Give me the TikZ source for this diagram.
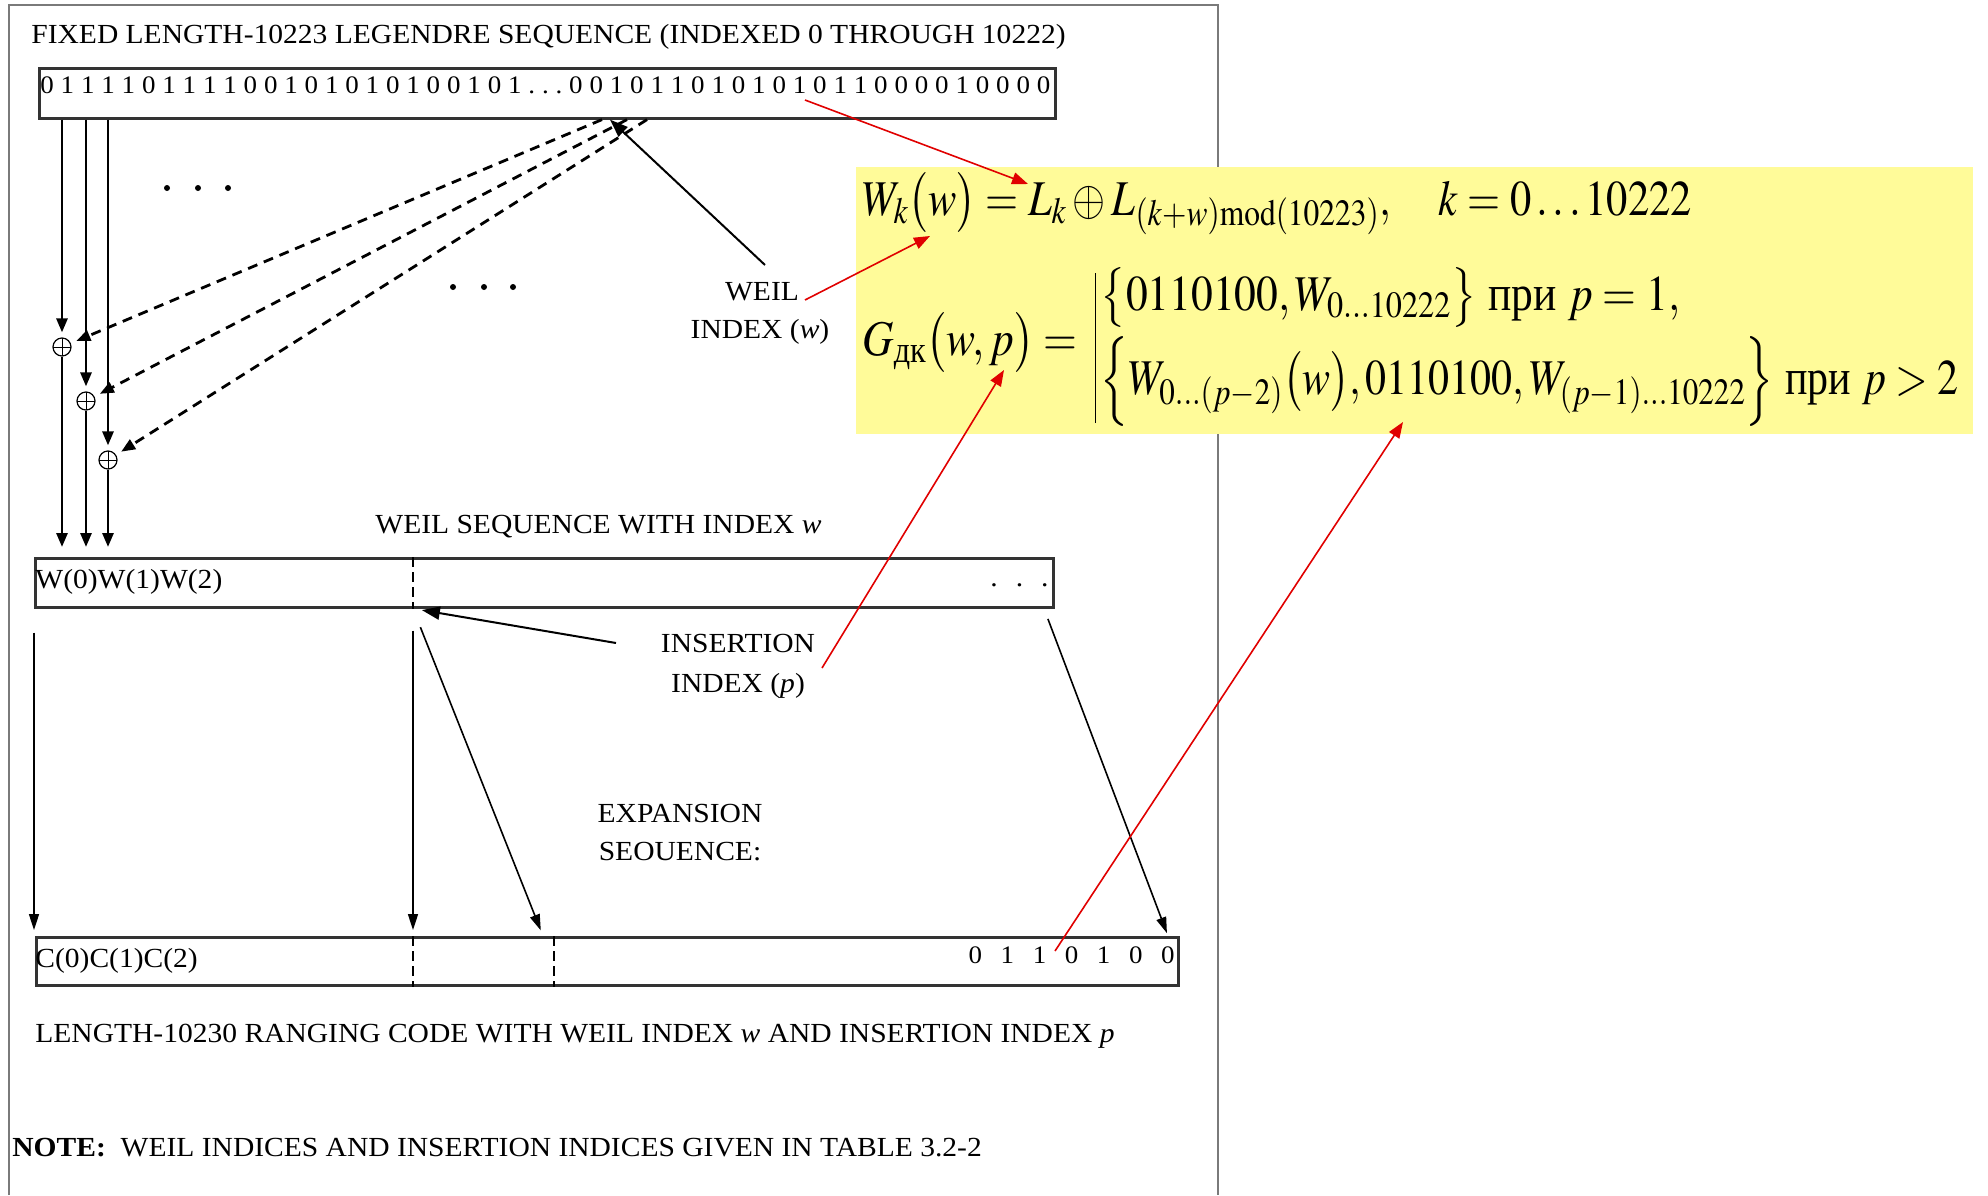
\documentclass[tikz,border=0pt]{standalone}
\usepackage{amsmath}
\usepackage{mathptmx}
\usepackage[no-math]{fontspec}
\setmainfont{Liberation Serif}[FakeStretch=1.07]
\newfontfamily\plainserif{Liberation Serif}
\usetikzlibrary{arrows.meta,calc,positioning}
\definecolor{Frame}{HTML}{7A7A7A}
\definecolor{BoxLine}{HTML}{333333}
\definecolor{Marker}{HTML}{FFFB99}
\definecolor{RedLine}{HTML}{E00000}
\newcommand{\txtsize}{\fontsize{13.8}{17}\selectfont}
\newcommand{\bitsize}{\fontsize{12.6}{15}\selectfont}
\newcommand{\eqsize}{\fontsize{25}{30}\selectfont}
\tikzset{
  seqbox/.style={draw=BoxLine,line width=1.3pt,inner sep=0,anchor=north west},
  xorop/.style={circle,draw,line width=.6pt,minimum size=9pt,inner sep=0,
    path picture={\draw[line width=.5pt] (path picture bounding box.north) -- (path picture bounding box.south)
      (path picture bounding box.west) -- (path picture bounding box.east);}},
  feed/.style={line width=1.4pt,-{Triangle[length=7pt,width=5.5pt]}},
  taps/.style={feed,dash pattern=on 5pt off 3.5pt},
  pointer/.style={line width=1pt,-{Triangle[length=9pt,width=6.5pt]}},
  spread/.style={line width=.8pt,-{Triangle[length=8pt,width=5pt]}},
  remark/.style={line width=.8pt,RedLine,-{Triangle[length=8pt,width=6pt]}},
  insmark/.style={line width=1pt,dash pattern=on 5pt off 2.5pt},
  lbl/.style={font=\txtsize,inner sep=0}
}
\begin{document}
\begin{tikzpicture}[x=.5pt,y=-.5pt]
  \useasboundingbox (0,0) rectangle (1988,1195);
  \draw[Frame,line width=1pt] (9,1195) -- (9,5) -- (1218,5) -- (1218,1195);

  % legendre sequence
  \node[lbl,anchor=base west] (title) at (31,43) {FIXED LENGTH-10223 LEGENDRE SEQUENCE (INDEXED 0 THROUGH 10222)};
  \node[seqbox,minimum width=508pt,minimum height=25pt] (legbox) at (38,67) {};
  \node[anchor=base west,font=\bitsize,inner sep=0] (bits) at (40,93)
    {\frenchspacing\makebox[505pt][s]{0 1 1 1 1 0 1 1 1 1 0 0 1 0 1 0 1 0 1 0 0 1 0 1 . . . 0 0 1 0 1 1 0 1 0 1 0 1 0 1 1 0 0 0 0 1 0 0 0 0}};

  \node[xorop] (xorA) at (62,347) {};
  \node[xorop] (xorB) at (86,401) {};
  \node[xorop] (xorC) at (108,460) {};

  \node[seqbox,minimum width=509pt,minimum height=24.5pt] (wbox) at (34,557) {};
  \node[seqbox,minimum width=571pt,minimum height=24pt] (cbox) at (35,936) {};

  \foreach \src/\op in {62/xorA,86/xorB,108/xorC} {
    \draw[feed,shorten >=2.5pt] (\src,0 |- legbox.south) -- (\op);
    \draw[feed,shorten >=5pt] (\op) -- (\src,0 |- wbox.north);
  }
  \foreach \src/\op in {602/xorA,627/xorB,647/xorC}
    \draw[taps,shorten >=3pt] (\src,0 |- legbox.south) -- (\op);

  \foreach \x in {167,198,228} \fill (\x,188) circle (1.5pt);
  \foreach \x in {453,484,513} \fill (\x,287) circle (1.5pt);

  \node[lbl,anchor=base] (weil) at (762,300) {WEIL};
  \node[lbl,anchor=base] (widx) at (760,338) {INDEX (\textit{w})};
  \coordinate (wtail) at (765,265);
  \draw[pointer] (wtail) -- (610,0 |- legbox.south);

  % weil sequence
  \node[lbl,anchor=base west] (wcap) at (375,533) {WEIL SEQUENCE WITH INDEX \textit{w}};
  \node[lbl,anchor=base west] (wfirst) at (35,588) {W(0)W(1)W(2)};
  \node[lbl,anchor=base east] (wlast) at (1049,586) {.\hspace{9pt}.\hspace{9pt}.};
  \draw[insmark] (413,0 |- wbox.north) -- (413,0 |- wbox.south);

  \node[lbl,anchor=base] (insrt) at (738,652) {INSERTION};
  \node[lbl,anchor=base] (pidx) at (738,692) {INDEX (\textit{p})};
  \coordinate (itail) at (616,643);
  \draw[pointer,shorten >=4.5pt] (itail) -- (413,0 |- wbox.south);

  \draw[spread,shorten <=12pt,shorten >=3pt] (34,0 |- wbox.south) -- (34,0 |- cbox.north);
  \draw[spread,shorten <=11pt,shorten >=3pt] (413,0 |- wbox.south) -- (413,0 |- cbox.north);
  \draw[spread,shorten <=10pt,shorten >=3pt] (413,0 |- wbox.south) -- (543,0 |- cbox.north);
  \draw[spread,shorten <=5.5pt,shorten >=1.5pt] (1044,0 |- wbox.south) -- (1168,0 |- cbox.north);

  \node[lbl,anchor=base] (expn) at (680,822) {EXPANSION};
  \node[lbl,anchor=base] (expseq) at (680,860) {SEOUENCE:};

  % ranging code
  \node[lbl,anchor=base west] (cfirst) at (35,967) {C(0)C(1)C(2)};
  \node[anchor=base east,font=\bitsize,inner sep=0] (cpre) at (1175,963) {\makebox[103pt][s]{0 1 1 0 1 0 0}};
  \draw[insmark] (413,0 |- cbox.north) -- (413,0 |- cbox.south);
  \draw[insmark] (554,0 |- cbox.north) -- (554,0 |- cbox.south);

  \node[lbl,anchor=base west] (caption) at (35,1042) {LENGTH-10230 RANGING CODE WITH WEIL INDEX \textit{w} AND INSERTION INDEX \textit{p}};
  \node[lbl,anchor=base west] (note) at (12,1156) {\textbf{NOTE:}\ \ WEIL INDICES AND INSERTION INDICES GIVEN IN TABLE 3.2-2};

  % formulas
  \node[fill=Marker,minimum width=558.5pt,minimum height=133.5pt,anchor=north west,inner sep=0] (eqbox) at (856,167) {};
  \node[anchor=base west,inner sep=0,font=\eqsize] (wdef) at (862,215)
    {\scalebox{.85}[1]{$W_k\bigl(w\bigr)=L_k\oplus L_{(k+w)\mathrm{mod}(10223)},\quad k=0\ldots10222$}};
  \node[anchor=base west,inner sep=0,font=\eqsize] (gdef) at (862,355)
    {\scalebox{.87}[1]{$G_{\text{\plainserif дк}}\bigl(w,p\bigr)=\mkern3mu\mathord{\vrule width .7pt height 41pt depth 34pt}\mkern2mu
      \raisebox{22.5pt}{$\begin{array}[t]{@{}l@{}}
      \bigl\{0110100,W_{0\ldots10222}\bigr\}\ \text{\plainserif при}\ p=1,\\[4.4pt]
      \scalebox{.965}[1]{$\Bigl\{W_{0\ldots(p-2)}\bigl(w\bigr),0110100,W_{(p-1)\ldots10222}\Bigr\}\ \text{\plainserif при}\ p>2$}
    \end{array}$}$}};

  \coordinate (lsrc) at (805,100);
  \coordinate (lk) at (1028,184);
  \coordinate (wsrc) at (805,300);
  \coordinate (wk) at (930,236);
  \coordinate (psrc) at (822,668);
  \coordinate (gp) at (1004,370);
  \coordinate (csrc) at (1055,951);
  \coordinate (gmid) at (1403,422);
  \draw[remark] (lsrc) -- (lk);
  \draw[remark] (wsrc) -- (wk);
  \draw[remark] (psrc) -- (gp);
  \draw[remark] (csrc) -- (gmid);
\end{tikzpicture}
\end{document}
